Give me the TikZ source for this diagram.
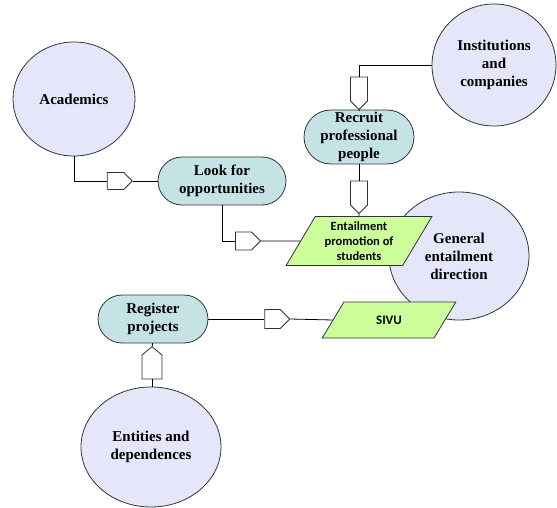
\documentclass[tikz,border=0pt]{standalone}
\usepackage{fontspec}
\setmainfont{Liberation Serif}
\newfontfamily\calfont{Carlito}
\usetikzlibrary{shapes.geometric,shapes.misc,shapes.symbols}
\definecolor{circfill}{HTML}{E6E6FA}
\definecolor{boxfill}{HTML}{C5E3E5}
\definecolor{parafill}{HTML}{CCFF99}
\definecolor{edge}{HTML}{333333}
\tikzset{
  circ/.style={ellipse, draw=edge, fill=circfill, line width=0.8pt, inner sep=0pt, align=center,
    font=\bfseries\fontsize{15}{18}\selectfont},
  rbox/.style={rounded rectangle, draw=edge, fill=boxfill, line width=0.8pt, inner sep=0pt, align=center,
    font=\bfseries\fontsize{15}{18}\selectfont},
  para/.style={trapezium, trapezium stretches=true, draw=edge, fill=parafill, line width=0.8pt, inner sep=0pt,
    align=center},
  pent/.style={signal, draw=edge, fill=white, line width=0.8pt, inner sep=0pt, signal pointer angle=90},
  conn/.style={draw=black, line width=0.8pt},
}
\begin{document}
\begin{tikzpicture}[x=1pt,y=-1pt]
\useasboundingbox (0,0) rectangle (557,508);
% circles
\node[circ, minimum width=122, minimum height=114] (acad) at (74,99) {Academics};
\node[circ, minimum width=124, minimum height=122] (inst) at (494,65) {Institutions\\and\\companies};
\node[circ, minimum width=140, minimum height=128] (gen) at (459,256) {General\\entailment\\direction};
\node[circ, minimum width=140, minimum height=120] (ent2) at (151,447) {Entities and\\dependences};
% rounded boxes
\node[rbox, minimum width=128, minimum height=48] (look) at (222,181) {Look for\\opportunities};
\node[rbox, minimum width=110, minimum height=54] (recr) at (359,137) {Recruit\\professional\\people};
\node[rbox, minimum width=110, minimum height=48] (reg) at (153,319) {Register\\projects};
% parallelograms
\node[para, trapezium left angle=59.4, trapezium right angle=120.6, minimum width=146, minimum height=49,
  font=\calfont\bfseries\fontsize{12.5}{15}\selectfont] (prom) at (359,241) {Entailment\\promotion of\\students};
\node[para, trapezium left angle=54.2, trapezium right angle=125.8, minimum width=134, minimum height=36,
  font=\calfont\bfseries\fontsize{13}{15}\selectfont] (sivu) at (389,320) {SIVU};
% pentagons
\node[pent, signal to=east, minimum width=25, minimum height=17] (p1) at (115.5,181) {};
\node[pent, signal to=east, minimum width=25, minimum height=18] (p2) at (243.5,241) {};
\node[pent, signal to=south, minimum width=17, minimum height=24] (p3) at (359,89) {};
\node[pent, signal to=south, minimum width=17, minimum height=24] (p4) at (359,193) {};
\node[pent, signal to=east, minimum width=25, minimum height=19] (p5) at (272.5,319) {};
\node[pent, signal to=north, minimum width=20, minimum height=24, signal pointer angle=100] (p6) at (152,367) {};
% connectors
\draw[conn] (acad.south) |- (p1.west);
\draw[conn] (p1.east) -- (look.west);
\draw[conn] (look.south) |- (p2.west);
\draw[conn] (p2.east) -- (prom.west);
\draw[conn] (inst.west) -| (p3.north);
\draw[conn] (p3.south) -- (recr.north);
\draw[conn] (recr.south) -- (p4.north);
\draw[conn] (p4.south) -- (prom.north);
\draw[conn] (reg.east) -- (p5.west);
\draw[conn] (p5.east) -- (sivu.west);
\draw[conn] (reg.south -| p6.north) -- (p6.north);
\draw[conn] (p6.south) -- (ent2.north -| p6.south);
\end{tikzpicture}
\end{document}
